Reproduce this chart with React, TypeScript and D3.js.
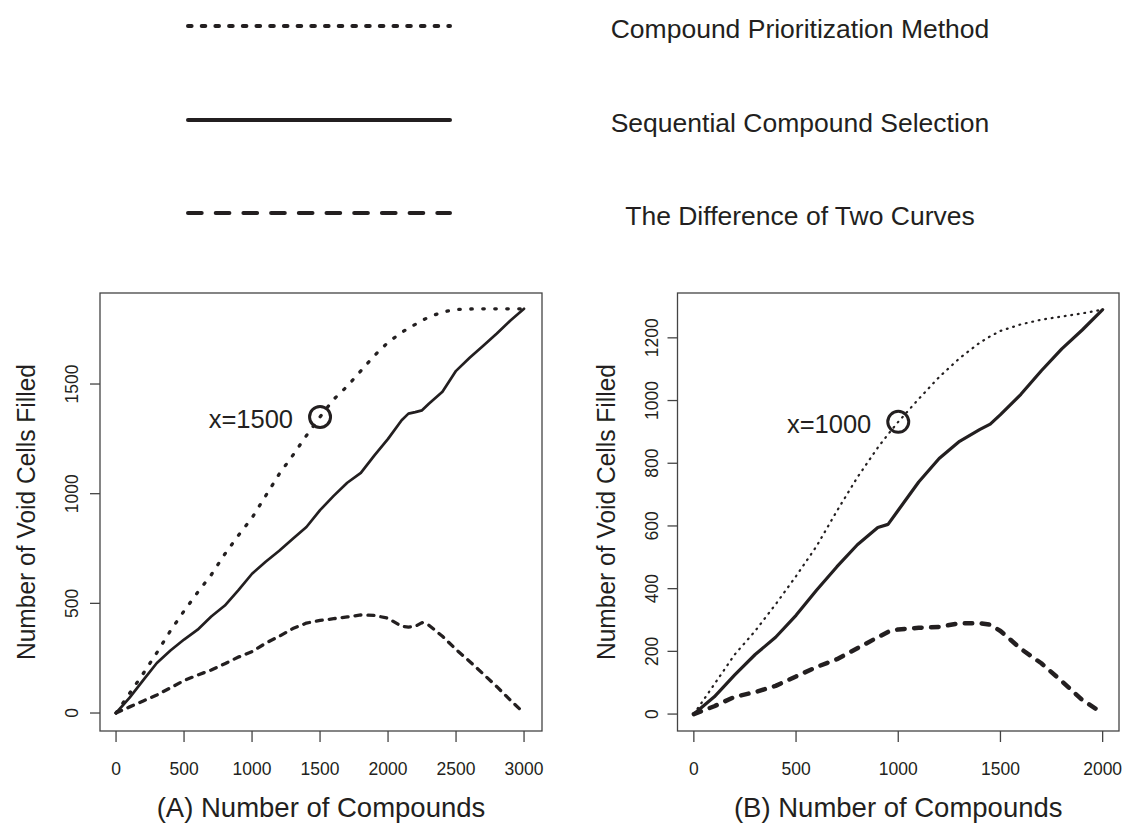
import React from "react";
import * as d3 from "d3";

const FONT = "'Liberation Sans', Arial, Helvetica, sans-serif";
const INK = "#231f20";
const AXIS = "#444444";

// ---------- Panel A data ----------
const compoundsA = [0, 100, 200, 300, 400, 500, 600, 700, 800, 900, 1000, 1100, 1200, 1300, 1400, 1500, 1600, 1700, 1800, 1900, 2000, 2100, 2150, 2200, 2250, 2300, 2400, 2500, 2600, 2700, 2800, 2900, 3000];
const prioritizationA = [0, 90, 180, 275, 375, 465, 550, 630, 725, 810, 890, 990, 1090, 1175, 1265, 1350, 1430, 1490, 1560, 1630, 1690, 1735, 1755, 1772, 1790, 1805, 1828, 1840, 1842, 1843, 1843, 1843, 1843];
const sequentialA = [0, 70, 150, 228, 285, 335, 380, 440, 490, 560, 635, 690, 740, 795, 848, 925, 990, 1050, 1095, 1175, 1250, 1335, 1365, 1372, 1380, 1410, 1465, 1560, 1620, 1675, 1730, 1790, 1843];
const differenceA = [0, 28, 55, 82, 115, 148, 173, 196, 225, 255, 280, 318, 350, 385, 410, 422, 430, 438, 447, 445, 432, 395, 392, 395, 412, 400, 350, 290, 235, 178, 120, 58, 0];
const xTicksA = [0, 500, 1000, 1500, 2000, 2500, 3000];
const yTicksA = [0, 500, 1000, 1500];

// ---------- Panel B data ----------
const compoundsB = [0, 100, 200, 300, 400, 500, 600, 700, 800, 900, 950, 1000, 1100, 1200, 1300, 1400, 1450, 1500, 1600, 1700, 1800, 1900, 2000];
const prioritizationB = [0, 95, 190, 265, 350, 440, 535, 648, 755, 850, 892, 932, 1005, 1075, 1135, 1185, 1205, 1222, 1243, 1258, 1268, 1278, 1290];
const sequentialB = [0, 55, 125, 190, 245, 315, 395, 470, 540, 595, 605, 650, 740, 815, 870, 908, 925, 955, 1020, 1095, 1165, 1225, 1290];
const differenceB = [0, 25, 55, 70, 90, 120, 150, 175, 210, 245, 262, 270, 275, 278, 290, 290, 285, 265, 208, 162, 105, 45, 3];
const xTicksB = [0, 500, 1000, 1500, 2000];
const yTicksB = [0, 200, 400, 600, 800, 1000, 1200];

const legendLabels = [
  "Compound Prioritization Method",
  "Sequential Compound Selection",
  "The Difference of Two Curves",
];

type LineStyle = { width: number; dash?: string };

type PanelProps = {
  xs: number[];
  prio: number[];
  seq: number[];
  diff: number[];
  xDomain: [number, number];
  yDomain: [number, number];
  xTicks: number[];
  yTicks: number[];
  rect: { left: number; right: number; top: number; bottom: number };
  styles: { prio: LineStyle; seq: LineStyle; diff: LineStyle };
  markX: number;
  title: string;
  yLabelX: number;
  yTitleX: number;
};

function Panel(p: PanelProps) {
  const x = d3.scaleLinear().domain(p.xDomain).range([p.rect.left, p.rect.right]);
  const y = d3.scaleLinear().domain(p.yDomain).range([p.rect.bottom, p.rect.top]);
  const mk = (vals: number[]) =>
    d3
      .line<number>()
      .x((_, i) => x(p.xs[i]))
      .y((v) => y(v))(vals) || "";
  const idx = p.xs.indexOf(p.markX);
  const cx = x(p.markX);
  const cy = y(p.prio[idx]);
  const line = (vals: number[], s: LineStyle) => (
    <path
      d={mk(vals)}
      fill="none"
      stroke={INK}
      strokeWidth={s.width}
      strokeDasharray={s.dash}
      strokeLinecap="round"
      strokeLinejoin="round"
    />
  );
  const midY = (p.rect.top + p.rect.bottom) / 2;
  return (
    <g>
      {line(p.diff, p.styles.diff)}
      {line(p.seq, p.styles.seq)}
      {line(p.prio, p.styles.prio)}
      <circle cx={cx} cy={cy} r={10.5} fill="none" stroke={INK} strokeWidth={3} />
      <text x={cx - 27} y={cy + 11} textAnchor="end" fontSize={25.5} fill={INK}>
        {`x=${p.markX}`}
      </text>
      <rect
        x={p.rect.left}
        y={p.rect.top}
        width={p.rect.right - p.rect.left}
        height={p.rect.bottom - p.rect.top}
        fill="none"
        stroke={AXIS}
        strokeWidth={1.3}
      />
      {p.xTicks.map((t) => (
        <g key={"x" + t}>
          <line x1={x(t)} x2={x(t)} y1={p.rect.bottom} y2={p.rect.bottom + 11} stroke={AXIS} strokeWidth={1.3} />
          <text x={x(t)} y={775} textAnchor="middle" fontSize={17.5} fill={INK}>
            {t}
          </text>
        </g>
      ))}
      {p.yTicks.map((t) => (
        <g key={"y" + t}>
          <line x1={p.rect.left - 10} x2={p.rect.left} y1={y(t)} y2={y(t)} stroke={AXIS} strokeWidth={1.3} />
          <text
            transform={`translate(${p.yLabelX},${y(t)}) rotate(-90)`}
            textAnchor="middle"
            fontSize={17.5}
            fill={INK}
          >
            {t}
          </text>
        </g>
      ))}
      <text x={(p.rect.left + p.rect.right) / 2 + 0} y={817} textAnchor="middle" fontSize={27.5} fill={INK}>
        {p.title}
      </text>
      <text
        transform={`translate(${p.yTitleX},${midY + 0}) rotate(-90)`}
        textAnchor="middle"
        fontSize={26.5}
        textLength={296}
        lengthAdjust="spacingAndGlyphs"
        fill={INK}
      >
        Number of Void Cells Filled
      </text>
    </g>
  );
}

export default function App() {
  const legendStyles: LineStyle[] = [
    { width: 4, dash: "3.6 10.1" },
    { width: 4 },
    { width: 4, dash: "13.7 14" },
  ];
  const legendY = [26, 120, 213];
  const legendTextY = [38, 132, 225];
  return (
    <svg
      width={1124}
      height={824}
      style={{ position: "absolute", left: 0, top: 0, background: "#fff" }}
      fontFamily={FONT}
    >
      <rect x={0} y={0} width={1124} height={824} fill="#fff" />
      {legendLabels.map((lab, i) => (
        <g key={lab}>
          <line
            x1={188}
            x2={450}
            y1={legendY[i]}
            y2={legendY[i]}
            stroke={INK}
            strokeWidth={legendStyles[i].width}
            strokeDasharray={legendStyles[i].dash}
            strokeLinecap="round"
          />
          <text x={800} y={legendTextY[i]} textAnchor="middle" fontSize={26.5} fill={INK}>
            {lab}
          </text>
        </g>
      ))}
      <Panel
        xs={compoundsA}
        prio={prioritizationA}
        seq={sequentialA}
        diff={differenceA}
        xDomain={[-118, 3132]}
        yDomain={[-82, 1915]}
        xTicks={xTicksA}
        yTicks={yTicksA}
        rect={{ left: 100, right: 542, top: 293, bottom: 731 }}
        styles={{
          prio: { width: 3.3, dash: "1.5 10.5" },
          seq: { width: 2.7 },
          diff: { width: 3.3, dash: "6 7" },
        }}
        markX={1500}
        title="(A) Number of Compounds"
        yLabelX={78}
        yTitleX={35}
      />
      <Panel
        xs={compoundsB}
        prio={prioritizationB}
        seq={sequentialB}
        diff={differenceB}
        xDomain={[-80, 2080]}
        yDomain={[-54, 1343]}
        xTicks={xTicksB}
        yTicks={yTicksB}
        rect={{ left: 677.5, right: 1119, top: 293, bottom: 731 }}
        styles={{
          prio: { width: 2.2, dash: "0.8 5.8" },
          seq: { width: 3.2 },
          diff: { width: 4.5, dash: "7.5 9.5" },
        }}
        markX={1000}
        title="(B) Number of Compounds"
        yLabelX={658}
        yTitleX={615}
      />
    </svg>
  );
}
